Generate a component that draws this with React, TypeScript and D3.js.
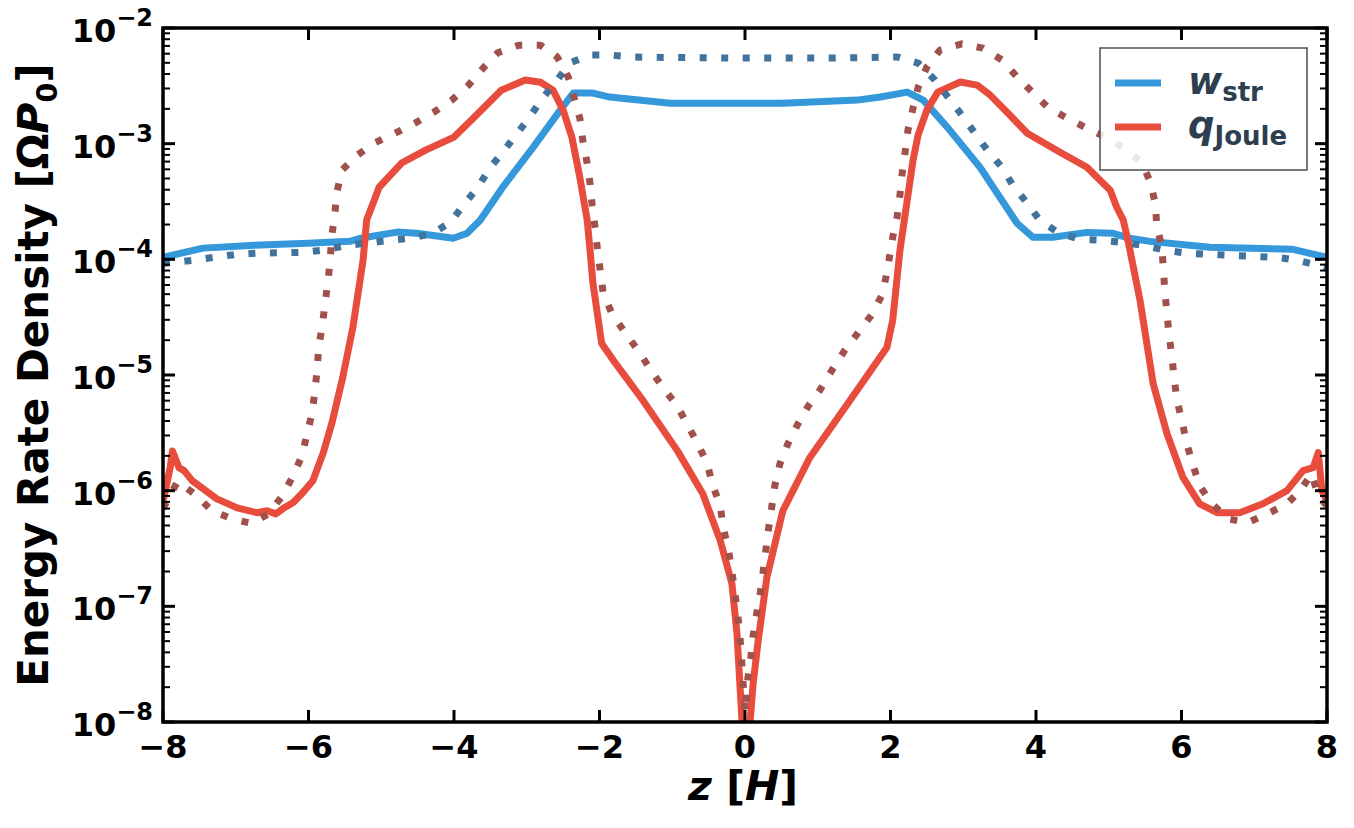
import React, { useEffect, useRef } from 'react';
import * as d3 from 'd3';

// [z, value] samples, z in units of H, value in units of Omega*P0
const wStr: [number, number][] = [
  [-8.0, 1.04e-4], [-7.45, 1.25e-4], [-6.8, 1.32e-4], [-6.01, 1.38e-4], [-5.43, 1.43e-4],
  [-5.29, 1.52e-4], [-4.78, 1.72e-4], [-4.51, 1.68e-4], [-4.01, 1.52e-4], [-3.82, 1.68e-4],
  [-3.64, 2.18e-4], [-3.33, 4.2e-4], [-2.91, 9.33e-4], [-2.54, 1.95e-3], [-2.36, 2.74e-3],
  [-2.09, 2.74e-3], [-1.86, 2.53e-3], [-1.03, 2.24e-3], [0.52, 2.24e-3], [1.54, 2.38e-3],
  [1.86, 2.53e-3], [2.23, 2.79e-3], [2.45, 2.38e-3], [2.78, 1.39e-3], [3.23, 6.26e-4],
  [3.74, 2.05e-4], [3.96, 1.55e-4], [4.23, 1.55e-4], [4.7, 1.71e-4], [5.06, 1.68e-4],
  [5.29, 1.52e-4], [5.57, 1.43e-4], [6.39, 1.27e-4], [7.53, 1.22e-4], [8.0, 1.04e-4],
];

const qJoule: [number, number][] = [
  [-8.0, 8.0e-7], [-7.9, 1.6e-6], [-7.87, 2.2e-6], [-7.78, 1.58e-6], [-7.71, 1.49e-6],
  [-7.6, 1.22e-6], [-7.26, 8.5e-7], [-6.98, 7.1e-7], [-6.71, 6.45e-7], [-6.57, 6.7e-7],
  [-6.45, 6.3e-7], [-6.35, 7.0e-7], [-6.21, 7.9e-7], [-6.08, 9.6e-7], [-5.94, 1.22e-6],
  [-5.8, 2.1e-6], [-5.68, 3.8e-6], [-5.53, 9.5e-6], [-5.39, 2.58e-5], [-5.25, 9.8e-5],
  [-5.2, 2.2e-4], [-5.1, 3.2e-4], [-5.03, 4.2e-4], [-4.72, 6.8e-4], [-4.39, 8.8e-4],
  [-4.0, 1.14e-3], [-3.76, 1.6e-3], [-3.35, 2.9e-3], [-3.02, 3.55e-3], [-2.81, 3.4e-3],
  [-2.64, 2.9e-3], [-2.5, 1.95e-3], [-2.38, 1.14e-3], [-2.27, 5.1e-4], [-2.17, 2.2e-4],
  [-2.13, 1.2e-4], [-2.09, 6.2e-5], [-1.97, 1.87e-5], [-1.81, 1.34e-5], [-1.4, 6.0e-6],
  [-0.93, 2.22e-6], [-0.58, 9.4e-7], [-0.34, 3.7e-7], [-0.18, 1.57e-7], [-0.11, 5.8e-8],
  [-0.07, 2.1e-8], [-0.04, 1.0e-8], [0.0, 3e-9], [0.07, 1.0e-8], [0.11, 2.1e-8],
  [0.18, 5.0e-8], [0.3, 1.77e-7], [0.52, 6.7e-7], [0.89, 1.93e-6], [1.44, 6.0e-6],
  [1.95, 1.73e-5], [2.03, 2.96e-5], [2.13, 1.2e-4], [2.23, 3.24e-4], [2.31, 7.2e-4],
  [2.38, 1.19e-3], [2.5, 1.95e-3], [2.65, 2.79e-3], [2.96, 3.41e-3], [3.19, 3.21e-3],
  [3.37, 2.63e-3], [3.64, 1.77e-3], [3.88, 1.23e-3], [4.33, 8.44e-4], [4.7, 6.26e-4],
  [5.02, 3.95e-4], [5.11, 2.82e-4], [5.2, 2.18e-4], [5.27, 1.4e-4], [5.43, 4.42e-5],
  [5.61, 8.44e-6], [5.8, 3.12e-6], [6.02, 1.3e-6], [6.25, 7.7e-7], [6.49, 6.45e-7],
  [6.8, 6.45e-7], [7.12, 7.7e-7], [7.45, 1.0e-6], [7.67, 1.49e-6], [7.81, 1.58e-6],
  [7.88, 2.13e-6], [7.93, 1.0e-6], [8.0, 8.2e-7],
];

// second run (dotted)
const wStrB: [number, number][] = [
  [-8.0, 9.2e-5], [-7.6, 9.8e-5], [-7.31, 1.04e-4], [-7.01, 1.1e-4], [-6.71, 1.13e-4],
  [-6.09, 1.15e-4], [-5.8, 1.2e-4], [-5.47, 1.32e-4], [-4.88, 1.46e-4], [-4.6, 1.52e-4],
  [-4.29, 1.68e-4], [-4.05, 2.09e-4], [-3.85, 3.05e-4], [-3.67, 4.2e-4], [-3.51, 6.14e-4],
  [-3.33, 8.44e-4], [-3.13, 1.23e-3], [-2.96, 1.7e-3], [-2.78, 2.48e-3], [-2.58, 3.55e-3],
  [-2.41, 4.98e-3], [-2.13, 5.84e-3], [-1.86, 5.84e-3], [-1.54, 5.61e-3], [-0.3, 5.5e-3],
  [1.21, 5.5e-3], [2.1, 5.61e-3], [2.38, 4.98e-3], [2.61, 3.55e-3], [2.79, 2.53e-3],
  [2.98, 1.77e-3], [3.16, 1.23e-3], [3.33, 8.79e-4], [3.53, 6.26e-4], [3.68, 4.38e-4],
  [3.88, 3.05e-4], [4.05, 2.18e-4], [4.3, 1.71e-4], [4.6, 1.49e-4], [4.91, 1.46e-4],
  [5.18, 1.4e-4], [5.47, 1.32e-4], [5.77, 1.2e-4], [6.08, 1.13e-4], [6.69, 1.08e-4],
  [7.31, 1.04e-4], [7.6, 9.8e-5], [7.88, 8.87e-5], [8.0, 8.5e-5],
];

const qJouleB: [number, number][] = [
  [-8.0, 7.0e-7], [-7.8, 1.2e-6], [-7.53, 9.0e-7], [-7.33, 6.7e-7], [-7.05, 5.7e-7],
  [-6.78, 5.2e-7], [-6.55, 6.3e-7], [-6.36, 9.0e-7], [-6.21, 1.35e-6], [-6.09, 2.0e-6],
  [-6.02, 3.1e-6], [-5.95, 4.7e-6], [-5.91, 7.4e-6], [-5.88, 1.14e-5], [-5.86, 1.73e-5],
  [-5.81, 2.7e-5], [-5.77, 4.25e-5], [-5.73, 6.6e-5], [-5.7, 1.04e-4], [-5.68, 1.61e-4],
  [-5.64, 2.4e-4], [-5.61, 3.8e-4], [-5.54, 5.9e-4], [-5.33, 7.95e-4], [-5.11, 1.0e-3],
  [-4.81, 1.23e-3], [-4.54, 1.5e-3], [-4.28, 1.87e-3], [-4.03, 2.38e-3], [-3.8, 3.21e-3],
  [-3.6, 4.5e-3], [-3.4, 6.1e-3], [-3.11, 7.1e-3], [-2.81, 7.1e-3], [-2.58, 5.6e-3],
  [-2.43, 3.77e-3], [-2.27, 1.66e-3], [-2.23, 1.07e-3], [-2.17, 6.8e-4], [-2.13, 4.55e-4],
  [-2.1, 2.9e-4], [-2.06, 1.85e-4], [-2.03, 1.25e-4], [-1.95, 5.1e-5], [-1.83, 3.4e-5],
  [-1.65, 2.33e-5], [-1.47, 1.63e-5], [-1.31, 1.14e-5], [-1.13, 7.8e-6], [-0.93, 5.4e-6],
  [-0.8, 3.8e-6], [-0.65, 2.55e-6], [-0.52, 1.71e-6], [-0.44, 1.1e-6], [-0.34, 7.4e-7],
  [-0.3, 4.8e-7], [-0.23, 3.15e-7], [-0.18, 2.0e-7], [-0.14, 1.31e-7], [-0.1, 8.6e-8],
  [-0.07, 5.5e-8], [-0.04, 3.0e-8], [0.0, 1.2e-8], [0.04, 2.4e-8], [0.08, 3.6e-8],
  [0.11, 5.5e-8], [0.16, 8.6e-8], [0.21, 1.31e-7], [0.25, 2.0e-7], [0.32, 4.5e-7],
  [0.41, 1.1e-6], [0.48, 1.71e-6], [0.59, 2.55e-6], [0.73, 3.8e-6], [0.87, 5.4e-6],
  [1.03, 7.4e-6], [1.21, 1.14e-5], [1.37, 1.63e-5], [1.55, 2.3e-5], [1.74, 3.3e-5],
  [1.89, 5.0e-5], [1.96, 8.3e-5], [2.03, 1.55e-4], [2.09, 2.31e-4], [2.13, 3.6e-4],
  [2.16, 5.5e-4], [2.2, 8.4e-4], [2.24, 1.31e-3], [2.31, 2.03e-3], [2.38, 3.08e-3],
  [2.5, 4.6e-3], [2.68, 6.45e-3], [2.98, 7.3e-3], [3.27, 6.7e-3], [3.53, 5.3e-3],
  [3.74, 3.77e-3], [3.95, 2.79e-3], [4.16, 2.07e-3], [4.43, 1.66e-3], [4.7, 1.36e-3],
  [4.98, 1.12e-3], [5.22, 9.1e-4], [5.46, 6.8e-4], [5.57, 4.65e-4], [5.64, 3.05e-4],
  [5.66, 1.97e-4], [5.73, 1.27e-4], [5.75, 8.4e-5], [5.77, 5.4e-5], [5.8, 3.4e-5],
  [5.83, 2.2e-5], [5.87, 1.42e-5], [5.9, 9.1e-6], [5.94, 6.0e-6], [6.01, 3.9e-6],
  [6.08, 2.45e-6], [6.16, 1.65e-6], [6.25, 1.1e-6], [6.42, 7.7e-7], [6.64, 5.7e-7],
  [6.91, 5.3e-7], [7.18, 6.3e-7], [7.45, 7.7e-7], [7.63, 1.0e-6], [7.79, 1.4e-6],
  [7.88, 9.0e-7], [8.0, 7.4e-7],
];

const xTicks = [-8, -6, -4, -2, 0, 2, 4, 6, 8];
const yExponents = [-8, -7, -6, -5, -4, -3, -2];

const BLUE = '#3498db';
const RED = '#e74c3c';
const BLUE_DARK = '#41739d';
const RED_DARK = '#a0514c';
const INK = '#2c3e50';
const FONT = '"DejaVu Sans", sans-serif';

const EnergyChart = () => {
  const ref = useRef<SVGSVGElement>(null);

  useEffect(() => {
    const svg = d3.select(ref.current);
    svg.selectAll('*').remove();

    const W = 1354;
    const H = 828;
    const margin = { top: 28, right: 27, bottom: 106, left: 163 };
    const width = W - margin.left - margin.right;
    const height = H - margin.top - margin.bottom;

    const x = d3.scaleLinear().domain([-8, 8]).range([0, width]);
    const y = d3.scaleLog().domain([1e-8, 1e-2]).range([height, 0]);

    svg.append('defs').append('clipPath').attr('id', 'plot-clip')
      .append('rect').attr('width', width).attr('height', height);

    const g = svg.append('g')
      .attr('transform', `translate(${margin.left},${margin.top})`)
      .attr('font-family', FONT)
      .attr('font-weight', 'bold');

    // curves
    const line = d3.line<[number, number]>()
      .x(d => x(d[0]))
      .y(d => y(d[1]));

    const curves = g.append('g').attr('clip-path', 'url(#plot-clip)');
    const series = [
      { data: wStr, color: BLUE, dash: null },
      { data: qJoule, color: RED, dash: null },
      { data: wStrB, color: BLUE_DARK, dash: '7,14.5' },
      { data: qJouleB, color: RED_DARK, dash: '7,14.5' },
    ];
    series.forEach(s => {
      curves.append('path')
        .datum(s.data)
        .attr('fill', 'none')
        .attr('stroke', s.color)
        .attr('stroke-width', 7)
        .attr('stroke-linejoin', 'round')
        .attr('stroke-linecap', s.dash ? 'butt' : 'round')
        .attr('stroke-dasharray', s.dash)
        .attr('d', line);
    });

    // ticks pointing inward on all four sides
    const ticks = g.append('g').attr('stroke', '#000');
    xTicks.forEach(t => {
      ticks.append('line').attr('x1', x(t)).attr('x2', x(t))
        .attr('y1', height).attr('y2', height - 12).attr('stroke-width', 3);
      ticks.append('line').attr('x1', x(t)).attr('x2', x(t))
        .attr('y1', 0).attr('y2', 12).attr('stroke-width', 3);
    });
    yExponents.forEach(e => {
      const yy = y(Math.pow(10, e));
      ticks.append('line').attr('x1', 0).attr('x2', 12).attr('y1', yy).attr('y2', yy).attr('stroke-width', 3);
      ticks.append('line').attr('x1', width).attr('x2', width - 12).attr('y1', yy).attr('y2', yy).attr('stroke-width', 3);
      if (e < -2) {
        for (let m = 2; m <= 9; m++) {
          const ym = y(m * Math.pow(10, e));
          ticks.append('line').attr('x1', 0).attr('x2', 7).attr('y1', ym).attr('y2', ym).attr('stroke-width', 2);
          ticks.append('line').attr('x1', width).attr('x2', width - 7).attr('y1', ym).attr('y2', ym).attr('stroke-width', 2);
        }
      }
    });

    // frame
    g.append('rect')
      .attr('width', width).attr('height', height)
      .attr('fill', 'none').attr('stroke', '#000').attr('stroke-width', 3.5);

    // tick labels
    xTicks.forEach(t => {
      g.append('text')
        .attr('x', x(t)).attr('y', height + 36)
        .attr('text-anchor', 'middle')
        .attr('font-size', 32)
        .text(t < 0 ? `\u2212${-t}` : `${t}`);
    });
    yExponents.forEach(e => {
      const txt = g.append('text')
        .attr('x', -10).attr('y', y(Math.pow(10, e)) + 14)
        .attr('text-anchor', 'end')
        .attr('font-size', 32);
      txt.append('tspan').text('10');
      txt.append('tspan').attr('dy', -16).attr('font-size', 24).text(`\u2212${-e}`);
    });

    // axis titles
    const xl = g.append('text')
      .attr('x', width / 2 - 2).attr('y', height + 78)
      .attr('text-anchor', 'middle')
      .attr('font-size', 41);
    xl.append('tspan').attr('font-style', 'italic').text('z');
    xl.append('tspan').text(' [');
    xl.append('tspan').attr('font-style', 'italic').text('H');
    xl.append('tspan').text(']');

    const yl = g.append('text')
      .attr('transform', `translate(${-115},${height / 2}) rotate(-90)`)
      .attr('text-anchor', 'middle')
      .attr('font-size', 42);
    yl.append('tspan').text('Energy Rate Density [\u03a9');
    yl.append('tspan').attr('font-style', 'italic').text('P');
    yl.append('tspan').attr('dy', 9).attr('font-size', 29).text('0');
    yl.append('tspan').attr('dy', -9).text(']');

    // legend
    const lg = svg.append('g')
      .attr('font-family', FONT)
      .attr('font-weight', 'bold');
    lg.append('rect')
      .attr('x', 1100).attr('y', 48).attr('width', 207).attr('height', 122)
      .attr('fill', '#fff').attr('fill-opacity', 0.85)
      .attr('stroke', '#4d4d4d').attr('stroke-width', 1.5);
    const entries = [
      { color: BLUE, main: 'w', sub: 'str' },
      { color: RED, main: 'q', sub: 'Joule' },
    ];
    entries.forEach((en, i) => {
      const cy = 83 + i * 44;
      lg.append('line')
        .attr('x1', 1115).attr('x2', 1161).attr('y1', cy).attr('y2', cy)
        .attr('stroke', en.color).attr('stroke-width', 7);
      const t = lg.append('text')
        .attr('x', 1188).attr('y', cy + 11)
        .attr('fill', INK)
        .attr('font-size', 37);
      t.append('tspan').attr('font-style', 'italic').text(en.main);
      t.append('tspan').attr('dy', 7).attr('font-size', 26).text(en.sub);
    });
  }, []);

  return (
    <svg ref={ref} width={1354} height={828}
      style={{ position: 'absolute', left: 0, top: 0, background: '#fff' }} />
  );
};

export default function App() {
  return <EnergyChart />;
}
